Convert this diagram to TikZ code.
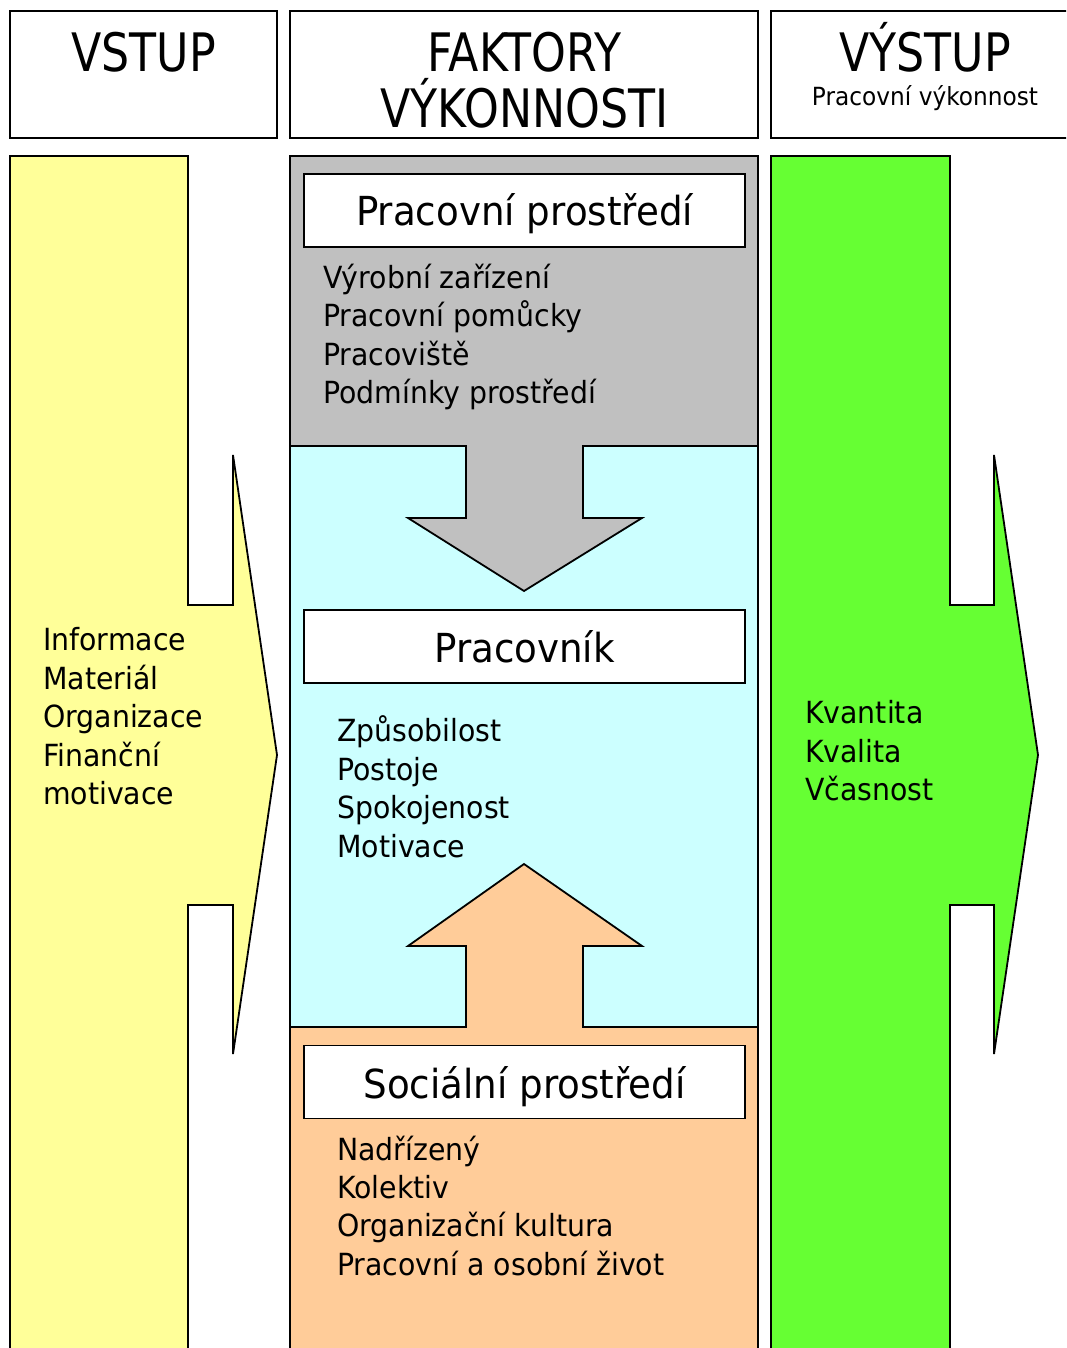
\documentclass[tikz,border=0pt]{standalone}
\usepackage{fontspec}
\setmainfont{DejaVu Sans}[FakeStretch=0.93]
\newfontfamily\headfont{DejaVu Sans}[FakeStretch=0.835]

\definecolor{inyellow}{HTML}{FFFF99}
\definecolor{envgray}{HTML}{C0C0C0}
\definecolor{workcyan}{HTML}{CCFFFF}
\definecolor{socpeach}{HTML}{FFCC99}
\definecolor{outgreen}{HTML}{66FF33}

\tikzset{
  outline/.style={draw=black, line width=1.8pt, line join=miter},
  headbox/.style={draw=black, line width=1.8pt, rectangle, inner sep=0pt, fill=white},
  headtext/.style={inner sep=0pt, anchor=base, font=\headfont\fontsize{53}{60}\selectfont},
  subhead/.style={inner sep=0pt, anchor=base, font=\fontsize{25}{30}\selectfont},
  titlebox/.style={draw=black, line width=1.8pt, rectangle, fill=white, inner sep=0pt,
                   minimum width=441pt, minimum height=73pt},
  titletext/.style={inner sep=0pt, anchor=base, font=\fontsize{40}{48}\selectfont},
  item/.style={inner sep=0pt, anchor=base west, font=\fontsize{30.5}{36}\selectfont},
}

\begin{document}
\begin{tikzpicture}[x=1pt, y=-1pt]
\useasboundingbox (0,0) rectangle (1066,1348);
\clip (0,0) rectangle (1066,1348);
\fill[white] (0,0) rectangle (1066,1348);

% column headings
\node[headbox, minimum width=267pt, minimum height=127pt] (hin) at (143.5,74.5) {};
\node[headbox, minimum width=468pt, minimum height=127pt] (hmid) at (524,74.5) {};
\node[headbox, minimum width=304pt, minimum height=127pt] (hout) at (923,74.5) {};
\node[headtext] (tin) at (143.5,72) {VSTUP};
\node[headtext] (tmid1) at (524.5,72) {FAKTORY};
\node[headtext] (tmid2) at (524.5,128) {VÝKONNOSTI};
\node[headtext] (tout) at (925,72) {VÝSTUP};
\node[subhead] (tout2) at (925,106) {Pracovní výkonnost};

% input arrow
\filldraw[outline, fill=inyellow]
  (10,1360) -- (10,156) -- (188,156) -- (188,605) -- (233,605) -- (233,455)
  -- (277,755) -- (233,1054) -- (233,905) -- (188,905) -- (188,1360);

% output arrow
\filldraw[outline, fill=outgreen]
  (771,1360) -- (771,156) -- (950,156) -- (950,605) -- (994,605) -- (994,455)
  -- (1038,755) -- (994,1054) -- (994,905) -- (950,905) -- (950,1360);

% middle column: three bands
\fill[envgray] (290,156) rectangle (758,446);
\fill[workcyan] (290,446) rectangle (758,1027);
\fill[socpeach] (290,1027) rectangle (758,1360);
% downward arrow from the work environment
\fill[envgray] (466,440) -- (466,518) -- (408,518) -- (524,591) -- (642,518)
  -- (583,518) -- (583,440) -- cycle;
% upward arrow from the social environment
\fill[socpeach] (466,1033) -- (466,946) -- (408,946) -- (524,864) -- (642,946)
  -- (583,946) -- (583,1033) -- cycle;
\draw[outline] (290,446) -- (466,446) -- (466,518) -- (408,518) -- (524,591)
  -- (642,518) -- (583,518) -- (583,446) -- (758,446);
\draw[outline] (290,1027) -- (466,1027) -- (466,946) -- (408,946) -- (524,864)
  -- (642,946) -- (583,946) -- (583,1027) -- (758,1027);
\draw[outline] (290,1360) -- (290,156) -- (758,156) -- (758,1360);

% band titles
\node[titlebox] (benv) at (524.5,210.5) {};
\node[titlebox] (bwork) at (524.5,646.5) {};
\node[titlebox] (bsoc) at (524.5,1082) {};
\node[titletext] (tenv) at (524.5,226) {Pracovní prostředí};
\node[titletext] (twork) at (524.5,662) {Pracovník};
\node[titletext] (tsoc) at (524.5,1098) {Sociální prostředí};

% item lists
\foreach \t [count=\i] in {Výrobní zařízení, Pracovní pomůcky, Pracoviště, Podmínky prostředí}
  \node[item] (env\i) at (323,{288.3+(\i-1)*38.4}) {\t};
\foreach \t [count=\i] in {Informace, Materiál, Organizace, Finanční, motivace}
  \node[item] (in\i) at (43,{650.5+(\i-1)*38.6}) {\t};
\foreach \t [count=\i] in {Způsobilost, Postoje, Spokojenost, Motivace}
  \node[item] (work\i) at (337,{741.5+(\i-1)*38.6}) {\t};
\foreach \t [count=\i] in {Kvantita, Kvalita, Včasnost}
  \node[item] (out\i) at (805,{723.5+(\i-1)*38.5}) {\t};
\foreach \t [count=\i] in {Nadřízený, Kolektiv, Organizační kultura, Pracovní a osobní život}
  \node[item] (soc\i) at (337,{1160+(\i-1)*38.4}) {\t};
\end{tikzpicture}
\end{document}
